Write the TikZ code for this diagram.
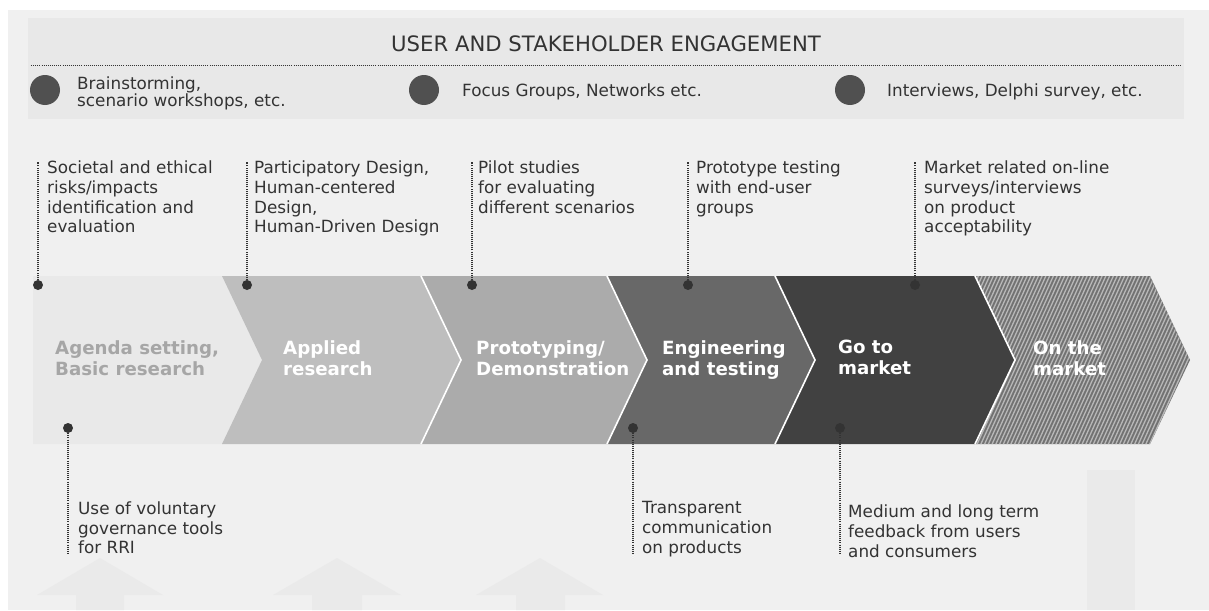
\documentclass[tikz,border=0pt]{standalone}
\usepackage{fontspec}
\setmainfont{DejaVu Sans}

\definecolor{panel}{HTML}{F0F0F0}
\definecolor{band}{HTML}{E8E8E8}
\definecolor{stageA}{HTML}{E9E9E9}
\definecolor{stageB}{HTML}{BEBEBE}
\definecolor{stageC}{HTML}{ABABAB}
\definecolor{stageD}{HTML}{686868}
\definecolor{stageE}{HTML}{414141}
\definecolor{stageF}{HTML}{727272}
\definecolor{hatch}{HTML}{B8B8B8}
\definecolor{ink}{HTML}{333333}
\definecolor{bullet}{HTML}{505050}
\definecolor{ghost}{HTML}{EAEAEA}
\definecolor{labelA}{HTML}{A6A6A6}

\begin{document}
\begin{tikzpicture}[x=1pt,y=-1pt,
  note/.style={font=\fontsize{16.8}{19.6}\selectfont, text=ink, align=left,
               anchor=north west, inner sep=0pt},
  bandtext/.style={font=\fontsize{16.8}{17}\selectfont, text=ink, align=left,
               anchor=west, inner sep=0pt},
  stagelabel/.style={font=\fontsize{18.2}{21}\selectfont\bfseries, text=white,
               align=left, anchor=north west, inner sep=0pt},
  pin/.style={circle, fill=ink, inner sep=0pt, minimum size=10pt},
  bigdot/.style={circle, fill=bullet, inner sep=0pt, minimum size=30pt},
  leader/.style={draw=ink, line width=1.2pt, dash pattern=on 1pt off 1.1pt},
  divider/.style={draw=white, line width=1.6pt},
  stripe/.style={draw=hatch, line width=1.3pt},
]
\useasboundingbox (0,0) rectangle (1209,610);

% page and panels
\fill[white] (0,0) rectangle (1209,610);
\fill[panel] (8,10) rectangle (1209,610);
\fill[band] (28,18) rectangle (1184,119);

% faint shapes along the bottom edge
\fill[ghost] (37,595) -- (100,558) -- (163,595) -- (124,595) -- (124,610)
  -- (76,610) -- (76,595) -- cycle;
\fill[ghost] (273,595) -- (337,558) -- (401,595) -- (362,595) -- (362,610)
  -- (312,610) -- (312,595) -- cycle;
\fill[ghost] (476,595) -- (540,558) -- (603,595) -- (565,595) -- (565,610)
  -- (516,610) -- (516,595) -- cycle;
\fill[ghost] (1087,470) rectangle (1135,610);

% engagement band
\node[font=\fontsize{21.2}{24}\selectfont, text=ink] (title) at (606,44)
  {USER AND STAKEHOLDER ENGAGEMENT};
\coordinate (ruleL) at (31,65);
\coordinate (ruleR) at (1181,65);
\draw[leader, line width=1pt] (ruleL) -- (ruleR);

\node[bigdot] (b1) at (45,90) {};
\node[bigdot] (b2) at (424,90) {};
\node[bigdot] (b3) at (850,90) {};
\node[bandtext] (e1) at (77,93) {Brainstorming,\\scenario workshops, etc.};
\node[bandtext] (e2) at (462,91.5) {Focus Groups, Networks etc.};
\node[bandtext] (e3) at (887,91.5) {Interviews, Delphi survey, etc.};

% stage chevrons
\fill[stageA] (33,276) -- (222,276) -- (262,360) -- (222,444) -- (33,444) -- cycle;
\fill[stageB] (222,276) -- (421,276) -- (461,360) -- (421,444) -- (222,444)
  -- (262,360) -- cycle;
\fill[stageC] (421,276) -- (607,276) -- (647,360) -- (607,444) -- (421,444)
  -- (461,360) -- cycle;
\fill[stageD] (607,276) -- (775,276) -- (815,360) -- (775,444) -- (607,444)
  -- (647,360) -- cycle;
\fill[stageE] (775,276) -- (975,276) -- (1015,360) -- (975,444) -- (775,444)
  -- (815,360) -- cycle;
% last stage: grey with fine rising stripes
\begin{scope}
  \clip (975,276) -- (1150,276) -- (1190,360) -- (1150,444) -- (975,444)
    -- (1015,360) -- cycle;
  \fill[stageF] (970,270) rectangle (1195,450);
  \foreach \k in {0,...,85} {
    \draw[stripe] ({890+3.75*\k},446) -- ({968+3.75*\k},274);
  }
\end{scope}
\draw[divider] (421,276) -- (461,360) -- (421,444);
\draw[divider] (607,276) -- (647,360) -- (607,444);
\draw[divider] (775,276) -- (815,360) -- (775,444);
\draw[divider] (975,276) -- (1015,360) -- (975,444);

\node[stagelabel, text=labelA] (s1) at (55,340) {Agenda setting,\\Basic research};
\node[stagelabel] (s2) at (283,340) {Applied\\research};
\node[stagelabel] (s3) at (476,340) {Prototyping/\\Demonstration};
\node[stagelabel] (s4) at (662,340) {Engineering\\and testing};
\node[stagelabel] (s5) at (838,340) {Go to\\market};
\node[stagelabel] (s6) at (1033,340) {On the\\market};

% notes above the stages
\node[note] (n1) at (47,161) {Societal and ethical\\risks/impacts\\identification and\\evaluation};
\node[note] (n2) at (254,161) {Participatory Design,\\Human-centered\\Design,\\Human-Driven Design};
\node[note] (n3) at (478,161) {Pilot studies\\for evaluating\\different scenarios};
\node[note] (n4) at (696,161) {Prototype testing\\with end-user\\groups};
\node[note] (n5) at (924,161) {Market related on-line\\surveys/interviews\\on product\\acceptability};

\foreach \i/\x in {1/38, 2/247, 3/472, 4/688, 5/915} {
  \node[pin] (p\i) at (\x,285) {};
  \coordinate (q\i) at (\x,162);
  \draw[leader] (p\i) -- (q\i);
}

% notes below the stages
\node[note] (m1) at (78,501.5) {Use of voluntary\\governance tools\\for RRI};
\node[note] (m2) at (642,501.5) {Transparent\\communication\\on products};
\node[note] (m3) at (848,505) {Medium and long term\\feedback from users\\and consumers};

\foreach \i/\x in {1/68, 2/633, 3/840} {
  \node[pin] (r\i) at (\x,428) {};
  \coordinate (u\i) at (\x,553);
  \draw[leader] (r\i) -- (u\i);
}
\end{tikzpicture}
\end{document}
